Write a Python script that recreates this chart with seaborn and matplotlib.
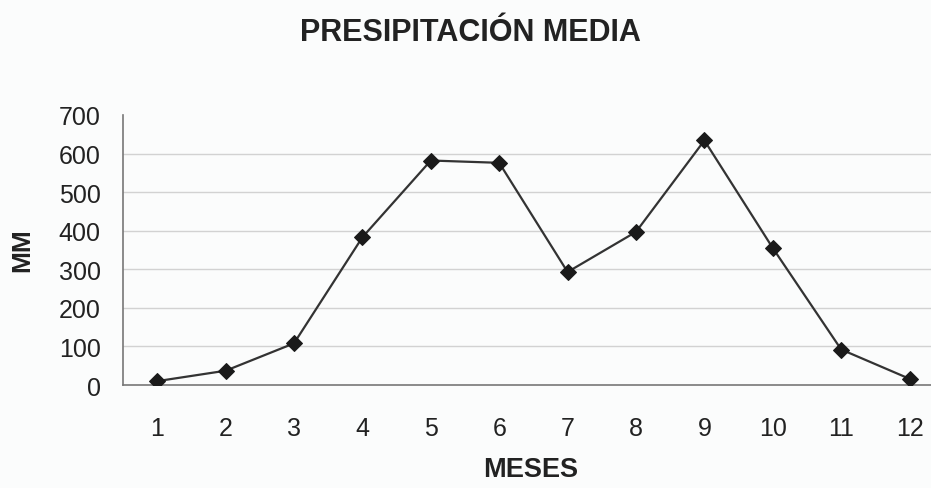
import numpy as np
import pandas as pd
import matplotlib
matplotlib.use("Agg")
import matplotlib.pyplot as plt
import seaborn as sns

# Monthly mean precipitation (mm)
meses = [1, 2, 3, 4, 5, 6, 7, 8, 9, 10, 11, 12]
precipitacion = [10, 37, 108, 383, 582, 576, 293, 397, 634, 355, 92, 16]
y_ticks = [0, 100, 200, 300, 400, 500, 600, 700]

df = pd.DataFrame({"mes": meses, "mm": precipitacion})

sns.set_theme(style="white")
plt.rcParams["font.family"] = ["Liberation Sans", "DejaVu Sans"]

W, H = 931, 489
fig = plt.figure(figsize=(W / 100, H / 100), dpi=100)
fig.patch.set_facecolor("#fbfcfc")

left, right, top, bottom = 123, 931, 116, 386
ax = fig.add_axes([left / W, 1 - bottom / H, (right - left) / W, (bottom - top) / H])
ax.set_facecolor("#fbfcfc")

sns.lineplot(data=df, x="mes", y="mm", ax=ax, color="#333333", linewidth=1.6,
             marker="D", markersize=8, markerfacecolor="#1a1a1a",
             markeredgecolor="#1a1a1a", zorder=3)

ax.set_ylim(0, 700)
bin_w = 68.4
ax.set_xlim(0.5, 0.5 + (right - left) / bin_w)

ax.set_yticks(y_ticks)
ax.set_yticklabels([str(v) for v in y_ticks])
ax.set_xticks(meses)
ax.set_xticklabels([str(m) for m in meses])
ax.set_xticks(np.arange(1.5, 12.5, 1.0), minor=True)

for v in y_ticks[1:-1]:
    ax.axhline(v, color="#d2d2d2", linewidth=1.0, zorder=1)

for s in ["top", "right"]:
    ax.spines[s].set_visible(False)
for s in ["left", "bottom"]:
    ax.spines[s].set_color("#777777")
    ax.spines[s].set_linewidth(1.2)

ax.tick_params(axis="y", length=0, pad=16, labelsize=18, labelcolor="#222222")
ax.tick_params(axis="x", which="major", length=0, pad=22, labelsize=18, labelcolor="#222222")
ax.tick_params(axis="x", which="minor", length=4, color="#888888", width=1)

ax.set_xlabel("")
ax.set_ylabel("")

fig.text(470 / W, 1 - 33 / H, "PRESIPITACIÓN MEDIA", ha="center", va="center",
         fontsize=22, fontweight="bold", color="#222222")
fig.text(22 / W, 1 - 250 / H, "MM", ha="center", va="center", rotation=90,
         fontsize=19, fontweight="bold", color="#222222")
fig.text(531 / W, 1 - 470 / H, "MESES", ha="center", va="center",
         fontsize=19.5, fontweight="bold", color="#222222")

fig.savefig("out.png", dpi=100, facecolor=fig.get_facecolor())
